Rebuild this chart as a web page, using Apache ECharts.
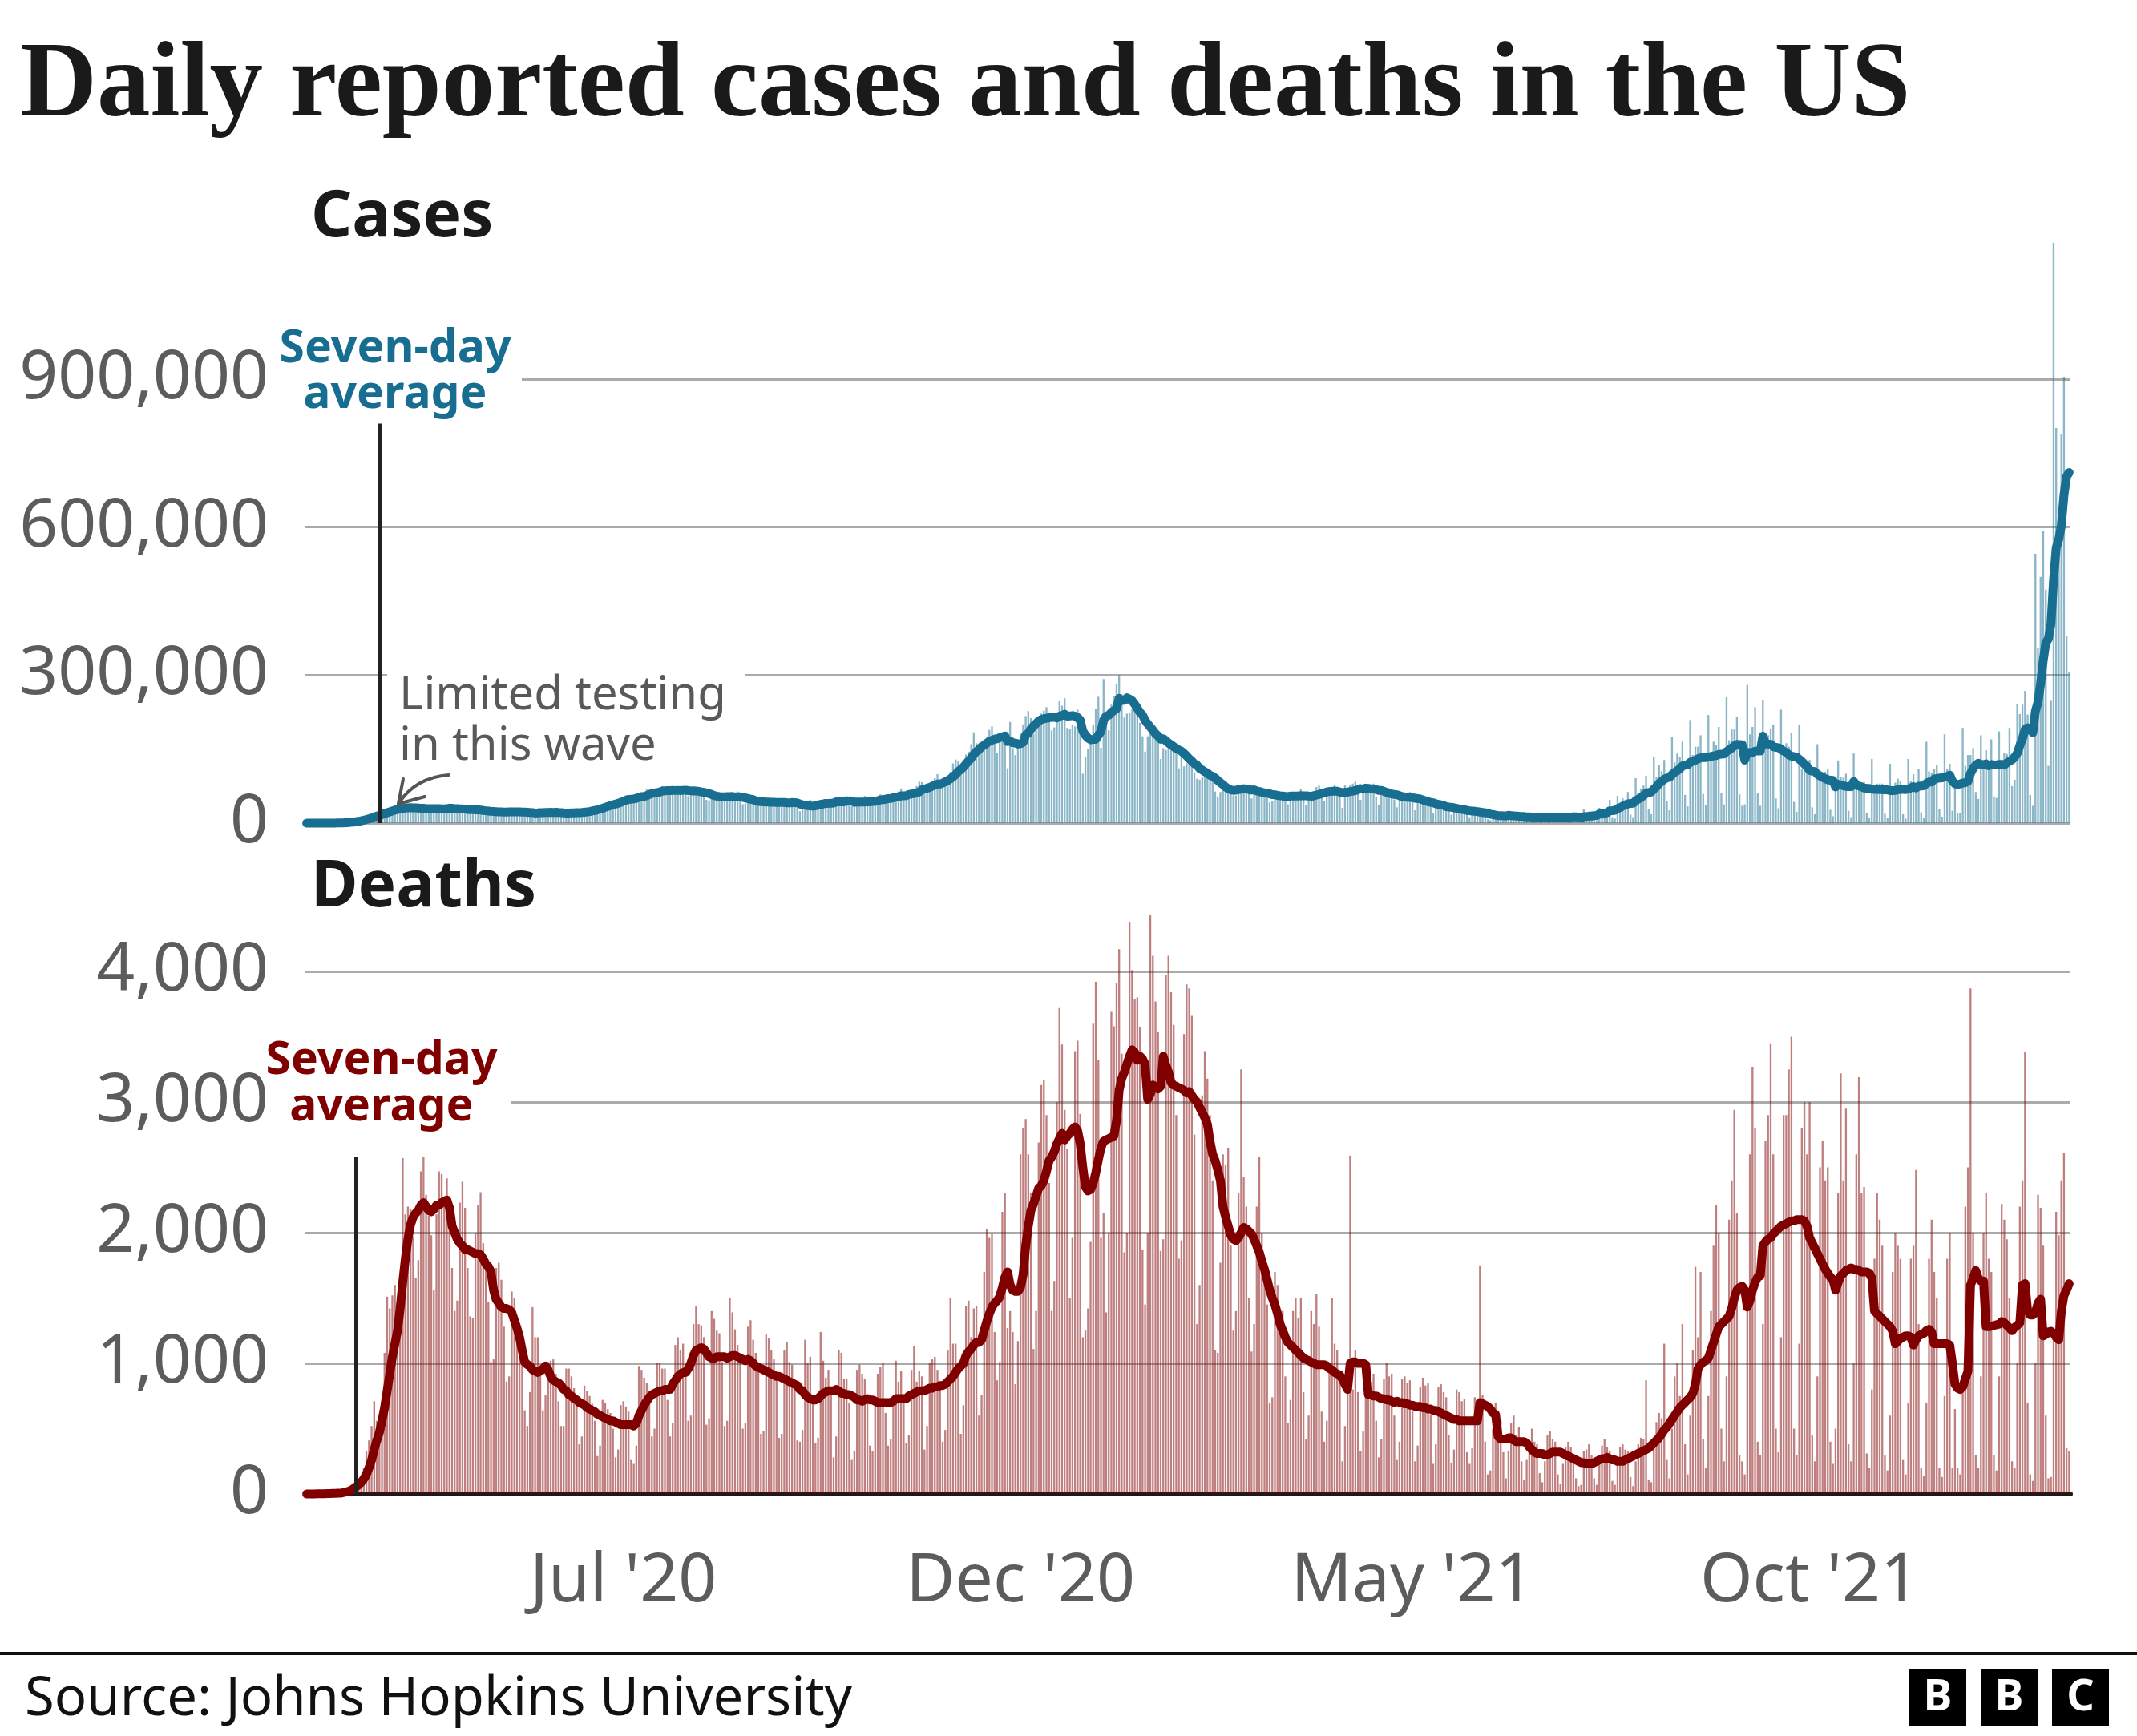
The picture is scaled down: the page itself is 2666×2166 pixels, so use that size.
<!DOCTYPE html>
<html>
<head>
<meta charset="utf-8">
<script src="https://cdn.jsdelivr.net/npm/echarts@6/dist/echarts.min.js"></script>
<style>
html,body{margin:0;padding:0;background:#fff;}
#chart{width:2666px;height:2166px;}
</style>
</head>
<body>
<div id="chart"></div>
<script>
// ---------- axis / category definitions ----------
const startDate = '2020-03-01';
const dayCount = 680;
const tickDates = ['2020-07-01', '2020-12-01', '2021-05-01', '2021-10-01'];
const tickNames = ["Jul '20", "Dec '20", "May '21", "Oct '21"];
const caseTicks = [0, 300000, 600000, 900000];
const deathTicks = [0, 1000, 2000, 3000, 4000];
const casesMarker = { date: '2020-03-29', top: 810000 };
const deathsMarker = { date: '2020-03-20', top: 2580 };

// ---------- daily reported cases (thousands), one row per week Sun..Sat ----------
const casesDailyK = [
0,0,0,0,0.1,0.1,0.1,
0.1,0.2,0.3,0.4,0.5,0.7,0.9,
1,1.5,2,3.5,4.5,6,7,
9,10,11,13,17,19,20,
19,21,25,26,29,32,33,
26,29,31,32,34,34,30,
27,26,27,31,31,33,30,
26,27,26,29,32,34,36,
27,22,25,27,30,33,29,
24,22,24,25,28,27,25,
20,18,22,21,27,25,24,
19,21,21,22,28,23,22,
20,18,19,19,22,24,25,
20,21,21,20,21,25,22,
18,17,19,21,22,25,25,
19,19,23,25,28,33,32,
27,31,34,38,40,45,43,
40,42,46,52,56,57,45,
45,50,60,62,59,68,63,
58,58,65,68,75,71,64,
60,61,63,71,71,75,65,
55,56,64,69,66,68,58,
47,46,52,54,58,61,55,
46,49,53,55,52,64,55,
38,40,44,46,46,48,45,
35,38,41,45,45,47,43,
34,38,41,39,44,51,42,
31,24,28,34,37,47,40,
34,35,39,39,45,48,42,
36,53,39,39,45,55,47,
34,36,43,39,45,55,48,
36,40,43,50,58,57,54,
46,42,52,59,64,70,55,
48,58,60,63,75,84,83,
61,67,74,79,91,99,82,
75,85,92,104,121,129,126,
104,118,139,145,160,184,162,
136,158,162,172,189,196,178,
142,173,175,182,111,205,152,
138,159,181,200,217,227,213,
181,193,216,222,228,235,220,
188,194,205,247,238,253,193,
190,199,196,230,197,100,134,
151,175,200,232,256,153,292,
210,188,240,257,283,300,261,
214,222,223,232,236,241,203,
176,145,176,186,191,191,171,
130,152,148,155,165,165,142,
111,135,115,121,123,134,103,
90,88,94,95,105,104,88,
64,54,63,69,70,80,72,
56,56,72,74,78,76,63,
50,58,57,67,66,67,59,
42,45,56,58,61,63,53,
38,55,55,59,61,69,51,
37,51,53,65,73,76,63,
45,66,61,66,78,73,52,
31,77,61,77,80,84,63,
47,68,77,74,75,80,54,
36,68,63,61,66,64,48,
32,55,49,58,60,63,42,
26,50,43,45,47,50,34,
20,35,35,38,38,34,28,
17,28,27,29,31,30,18,
12,24,23,25,25,24,13,
8,6,21,16,18,22,11,
6,18,13,15,16,17,9,
5,12,13,14,11,16,6,
4,14,11,12,13,16,6,
4,15,12,14,15,22,5,
3,4,28,16,21,23,9,
5,31,24,28,30,47,12,
9,55,38,50,46,63,17,
12,91,61,70,76,96,28,
18,134,93,117,105,128,45,
26,175,123,141,134,165,57,
34,209,138,155,155,178,59,
36,219,143,165,158,195,61,
38,255,168,190,190,215,58,
35,38,280,180,195,235,60,
35,250,170,178,192,200,50,
30,230,140,162,155,183,43,
23,200,110,123,121,128,32,
18,160,87,103,104,110,27,
14,67,127,93,92,100,25,
12,141,73,82,81,83,20,
11,130,72,80,80,80,19,
10,120,72,82,90,85,18,
9,130,86,99,70,110,22,
11,165,105,101,110,118,29,
13,180,110,120,25,80,20,
20,193,116,138,138,152,63,
49,178,112,148,112,170,54,
51,186,112,142,140,193,75,
88,242,221,240,268,220,57,
35,546,355,499,592,473,116,
248,1176,801,620,789,904,379,
306
];

// ---------- seven-day average of cases (thousands) ----------
const casesAvgK = [
0,0,0,0,0,0,0,
0.1,0.1,0.1,0.2,0.2,0.3,0.4,
0.6,0.8,1.0,1.4,2.0,2.8,3.6,
4.8,6.0,7.3,8.6,10.4,12.3,14.1,
15.6,17.1,19.1,21.0,22.7,24.6,26.4,
27.4,28.6,29.4,30.3,31.0,31.3,30.9,
31.0,30.6,30.0,29.9,29.4,29.3,29.3,
29.1,29.3,29.1,28.9,29.0,29.1,30.0,
30.1,29.4,29.3,29.0,28.7,28.6,27.6,
27.1,27.1,27.0,26.7,26.4,25.6,25.0,
24.4,23.9,23.6,23.0,22.9,22.6,22.4,
22.3,22.7,22.6,22.7,22.9,22.6,22.3,
22.4,22.0,21.7,21.3,20.4,20.6,21.0,
21.0,21.4,21.7,21.9,21.7,21.9,21.4,
21.1,20.6,20.3,20.4,20.6,20.6,21.0,
21.1,21.4,22.0,22.6,23.4,24.6,25.6,
26.7,28.4,30.0,31.9,33.6,35.3,36.9,
38.7,40.3,42.0,44.0,46.3,48.0,48.3,
49.0,50.1,52.1,53.6,54.0,55.6,58.1,
60.0,61.1,61.9,62.7,65.0,65.4,65.6,
65.9,66.3,66.0,66.4,65.9,66.4,66.6,
65.9,65.1,65.3,65.0,64.3,63.3,62.3,
61.1,59.7,58.0,55.9,54.7,53.7,53.3,
53.1,53.6,53.7,53.9,53.0,53.4,53.4,
52.3,51.0,49.7,48.4,47.6,45.3,43.9,
43.4,43.1,42.7,42.6,42.4,42.3,42.0,
41.9,41.9,41.9,41.0,40.9,41.4,41.3,
40.9,38.9,37.0,36.3,35.3,34.7,34.4,
34.9,36.4,38.0,38.7,39.9,40.0,40.3,
40.6,43.1,43.1,43.1,43.1,44.1,44.9,
44.6,42.1,42.7,42.7,42.7,42.7,42.9,
43.1,43.7,43.7,45.3,47.1,47.4,48.3,
49.7,50.0,51.3,52.6,53.4,55.3,55.4,
55.7,58.0,59.1,59.7,61.3,63.3,67.3,
69.1,70.4,72.4,74.7,77.0,79.1,79.0,
81.0,83.6,86.1,89.7,94.0,98.3,104.6,
108.7,113.4,120.1,126.0,131.6,139.4,144.6,
149.1,154.9,158.1,162.0,166.1,167.9,170.1,
171.0,173.1,175.0,176.4,165.3,166.6,162.9,
162.3,160.3,161.1,163.7,178.9,182.0,190.7,
196.9,201.7,206.7,209.9,211.4,212.6,213.6,
214.6,214.7,213.1,216.7,218.1,220.7,216.9,
217.1,217.9,216.6,214.1,208.3,186.4,178.0,
172.4,169.0,169.6,169.9,178.3,185.9,208.4,
216.9,218.7,224.4,228.0,231.9,252.9,248.4,
249.0,253.9,251.4,247.9,241.1,232.7,224.4,
219.0,208.0,201.3,194.7,188.3,181.1,176.6,
170.0,171.0,167.0,162.6,158.9,155.1,151.0,
148.3,145.9,141.1,136.3,130.3,125.9,120.3,
117.3,110.6,107.6,103.9,101.3,97.0,94.9,
91.1,86.3,81.9,78.1,73.1,69.7,67.4,
66.3,66.6,67.9,68.6,69.7,69.1,67.9,
67.0,67.3,65.1,64.1,62.4,61.1,60.6,
59.4,57.6,57.4,56.1,55.4,54.9,54.0,
53.4,54.9,54.7,54.9,54.9,55.7,55.4,
55.3,54.7,54.4,55.3,57.0,58.0,59.7,
60.9,63.0,64.1,64.3,65.0,64.6,63.0,
61.0,62.6,62.6,64.1,64.4,66.0,67.6,
69.9,68.6,70.9,70.4,69.7,69.1,67.9,
66.3,66.3,64.3,62.4,61.1,58.9,58.0,
57.4,55.6,53.6,53.1,52.3,52.1,51.3,
50.4,49.7,48.9,47.0,45.1,43.3,42.1,
41.3,39.1,38.0,37.0,35.7,33.4,32.6,
32.1,31.1,30.0,28.7,27.7,27.1,25.7,
25.0,24.4,23.9,23.3,22.4,21.6,20.9,
20.3,17.7,17.4,16.1,15.1,14.9,14.6,
14.3,16.0,14.9,14.7,14.4,13.7,13.4,
13.3,12.4,12.4,12.3,11.6,11.4,11.0,
10.9,11.1,10.9,10.6,10.9,10.9,10.9,
10.9,11.0,11.1,11.4,11.7,12.6,12.4,
12.3,10.7,13.0,13.3,14.1,14.3,14.9,
15.1,19.0,18.4,20.1,21.4,24.9,25.3,
25.9,29.3,31.3,34.4,36.7,39.0,39.7,
40.1,45.3,48.6,51.4,55.7,60.4,62.0,
62.9,69.0,73.6,80.3,84.4,89.0,91.4,
92.6,98.4,102.7,106.1,110.3,115.6,117.3,
118.4,123.3,125.4,127.4,130.4,132.3,132.6,
132.9,134.3,135.0,136.4,136.9,139.3,139.6,
139.9,145.0,148.6,152.1,156.7,159.6,159.1,
158.7,127.7,143.7,142.3,143.0,145.9,146.1,
146.1,176.4,160.7,160.4,160.0,155.0,153.6,
152.9,150.0,145.7,143.4,138.1,135.7,134.7,
133.7,129.4,125.1,119.6,114.7,106.9,105.3,
104.6,98.9,95.6,92.7,90.3,87.7,87.0,
86.4,73.1,78.9,77.4,75.7,74.3,74.0,
73.7,84.3,76.6,75.0,73.4,71.0,70.3,
70.1,68.6,68.4,68.1,68.0,67.6,67.4,
67.3,65.9,65.9,66.1,67.6,68.3,68.1,
68.0,69.4,71.4,73.9,71.0,74.6,75.1,
75.4,80.4,83.1,83.4,89.1,90.3,91.3,
91.6,93.7,94.4,97.1,85.0,79.6,78.3,
79.3,81.1,82.0,84.6,100.7,111.0,117.1,
121.3,119.1,118.6,120.0,116.3,118.9,117.6,
117.9,119.0,119.0,118.1,122.1,125.4,128.4,
133.7,141.7,157.3,171.3,189.6,193.4,190.9,
183.3,226.7,245.9,282.9,329.1,365.3,373.7,
404.1,494.1,557.9,575.1,603.3,664.9,702.4,
710.7
];

// ---------- daily reported deaths, one row per week Sun..Sat ----------
const deathsDaily = [
0,1,3,1,2,2,3,
3,4,4,8,6,7,10,
10,18,23,25,40,50,60,
130,200,330,410,520,710,560,
600,700,1080,1510,1420,1520,1600,
1330,1600,2570,2140,2200,2180,1970,
1650,1790,2470,2580,2290,2130,1980,
1560,2140,2470,2450,2220,2415,2160,
1730,1400,1480,2230,2390,2190,1730,
1360,1350,2000,2210,2310,1920,1790,
1470,1010,1030,1730,1770,1640,1280,
860,900,1550,1500,1290,1250,1100,
640,520,780,1430,1200,1200,960,
640,760,1010,1020,1030,920,710,
520,520,960,960,900,810,700,
380,440,830,790,750,690,560,
290,370,720,700,650,620,500,
280,340,680,710,670,630,260,
230,370,980,950,890,850,690,
440,500,1000,1000,960,960,720,
440,540,1140,1200,1100,1150,930,
560,600,1300,1440,1300,1290,1200,
530,580,1400,1340,1250,1230,1010,
520,560,1500,1390,1260,1140,1020,
500,540,1280,1330,1180,1080,940,
460,480,1220,1190,1100,1030,900,
430,460,1100,1160,1010,990,810,
410,400,490,1180,1000,1050,690,
390,430,1240,1020,890,950,760,
280,440,1100,1080,880,880,700,
260,330,950,990,920,880,700,
370,330,710,920,970,1000,620,
370,420,740,1020,860,940,720,
390,450,950,1130,860,940,900,
340,520,1000,1030,1050,950,860,
400,490,1100,1500,1150,1150,930,
460,680,1440,1480,1200,1420,1440,
600,760,1700,2030,1960,1990,1240,
870,1010,2160,2300,1270,1400,1240,
840,1170,2600,2800,2870,2600,2300,
1110,1400,2690,3130,3170,2900,2380,
1400,1630,3000,3720,3440,2940,2640,
1500,1960,3390,3470,2910,1200,1250,
1420,1930,3600,3920,3320,1960,2150,
1390,2000,3690,3580,3910,4170,3370,
1850,2000,4380,4010,3790,3800,3570,
1870,1450,2000,4430,4120,3770,3540,
1860,1950,3970,4120,3840,3590,2900,
1800,1940,3520,3900,3870,3660,2750,
1300,1600,3050,3390,3180,2900,2400,
1100,1080,1770,2600,2520,2650,1900,
1250,1400,2300,3250,2430,2200,1500,
1090,1300,2200,2580,2000,1700,1450,
700,740,1700,1600,1400,1400,900,
540,720,1400,1500,1350,1500,780,
420,600,1400,1300,1530,1280,630,
400,560,1000,1500,1150,1100,900,
250,520,900,2590,800,1100,780,
330,480,940,900,860,920,560,
280,420,880,1000,900,920,600,
260,400,880,900,850,870,630,
250,370,820,890,830,850,610,
230,380,820,840,780,740,450,
240,340,800,780,710,730,320,
230,350,740,700,1750,760,400,
150,180,500,700,480,560,320,
120,330,540,600,450,510,250,
110,260,400,500,400,380,160,
90,250,450,480,420,400,150,
80,230,360,400,360,280,120,
60,70,330,340,380,300,120,
70,300,370,420,360,330,100,
70,240,360,380,340,330,130,
60,250,380,430,420,870,110,
90,400,550,620,580,1150,260,
120,500,900,1000,750,1300,380,
150,600,1100,1740,1200,1700,420,
200,750,1400,1900,2210,2000,500,
250,900,2100,2400,2940,2150,300,
250,150,1500,2600,3270,2800,400,
300,1300,2700,2900,3450,2600,500,
320,1200,2900,2900,3250,3500,500,
300,1150,2800,3000,2600,3000,450,
250,900,2500,2700,2400,2500,400,
230,500,2300,3220,2400,2950,380,
250,1000,2600,3190,2300,2350,310,
200,800,1800,2300,2100,1900,300,
180,600,1700,2000,1900,1800,260,
150,700,1800,1900,2480,1300,200,
140,700,1800,2100,1700,1500,200,
130,750,1800,2000,200,650,200,
150,900,2200,2500,3870,2000,300,
200,900,2000,2300,1800,1700,300,
180,900,2220,2100,1950,1500,250,
200,1000,2200,2400,3380,700,150,
100,1000,2290,2190,1900,600,120,
130,1200,2160,1980,2400,2610,350,
330
];

// ---------- seven-day average of deaths ----------
const deathsAvg = [
0,0,0,0,1,1,2,
2,3,3,4,5,6,6,
10,14,20,28,40,55,70,
90,115,150,200,260,340,410,
470,560,660,790,920,1050,1150,
1250,1420,1620,1800,1950,2060,2120,
2150,2170,2210,2230,2200,2170,2160,
2180,2210,2210,2230,2240,2250,2190,
2050,2000,1950,1920,1900,1870,1870,
1860,1850,1840,1840,1830,1800,1760,
1740,1700,1560,1490,1460,1430,1420,
1420,1410,1390,1330,1270,1200,1100,
1010,990,980,950,940,930,940,
960,980,950,900,870,860,850,
830,800,790,760,750,730,720,
700,690,680,660,650,640,630,
610,600,590,580,570,560,560,
550,540,530,530,530,530,530,
520,540,600,640,680,710,740,
760,770,780,790,790,800,800,
800,840,870,900,920,930,930,
960,1000,1060,1100,1110,1120,1110,
1080,1050,1040,1040,1050,1050,1050,
1050,1040,1050,1060,1060,1050,1040,
1030,1020,1030,1020,1000,980,970,
960,950,940,930,920,910,900,
900,890,880,870,860,850,840,
830,800,790,760,740,730,720,
720,730,750,770,780,790,790,
790,800,790,770,770,760,760,
750,740,720,720,710,720,730,
720,720,710,700,700,700,700,
700,700,710,730,730,730,730,
730,750,760,770,780,790,790,
790,800,810,810,820,820,830,
830,840,860,880,900,930,960,
980,1000,1060,1090,1110,1140,1160,
1160,1180,1250,1320,1380,1430,1460,
1480,1510,1580,1660,1700,1600,1560,
1550,1550,1580,1680,1900,2050,2170,
2220,2280,2340,2360,2400,2470,2550,
2580,2620,2680,2720,2760,2710,2740,
2760,2790,2810,2780,2680,2500,2350,
2320,2330,2380,2460,2560,2650,2700,
2710,2720,2730,2740,2860,3090,3180,
3230,3290,3350,3400,3380,3320,3350,
3330,3290,3020,3060,3130,3120,3100,
3120,3350,3280,3230,3150,3130,3120,
3110,3100,3090,3070,3080,3050,3020,
3000,2960,2920,2880,2830,2700,2600,
2550,2480,2400,2200,2120,2050,1980,
1950,1940,1960,2000,2040,2030,2010,
1990,1950,1900,1850,1780,1720,1640,
1560,1500,1450,1380,1300,1250,1200,
1160,1140,1120,1100,1080,1060,1040,
1030,1020,1010,1000,990,990,990,
990,980,960,950,930,920,910,
880,840,800,1000,1010,1010,1000,
1000,1000,990,760,760,750,750,
740,730,730,720,720,710,700,
710,700,700,690,690,680,680,
670,670,670,660,660,650,650,
640,640,630,620,610,600,590,
580,570,570,560,560,560,560,
560,560,560,560,700,690,680,
670,650,620,610,440,420,420,
420,430,430,410,400,400,400,
400,390,360,340,320,310,310,
310,300,300,310,320,320,320,
320,310,300,290,280,270,260,
250,240,240,230,230,230,240,
250,260,270,270,280,270,260,
260,250,250,250,260,270,280,
290,300,310,320,330,340,350,
370,390,410,430,460,490,510,
540,570,600,630,660,680,700,
720,740,770,840,960,990,1010,
1020,1040,1100,1160,1220,1280,1300,
1320,1340,1360,1420,1500,1560,1580,
1590,1560,1430,1480,1560,1620,1660,
1670,1900,1930,1950,1960,1990,2010,
2030,2050,2060,2070,2080,2090,2090,
2100,2100,2100,2090,2050,1960,1920,
1880,1840,1800,1760,1720,1690,1660,
1640,1560,1620,1670,1690,1710,1720,
1730,1720,1720,1710,1700,1700,1700,
1690,1650,1400,1380,1360,1340,1320,
1300,1280,1245,1150,1170,1190,1200,
1210,1210,1200,1140,1180,1210,1220,
1230,1250,1260,1240,1150,1150,1150,
1150,1150,1150,1140,1000,840,810,
800,820,880,940,1600,1650,1710,
1650,1630,1630,1280,1280,1285,1290,
1295,1300,1320,1310,1290,1270,1250,
1275,1290,1310,1600,1610,1400,1370,
1370,1390,1460,1490,1210,1220,1240,
1245,1230,1200,1180,1400,1520,1560,
1610
];

// ---------- build category list (one per day) ----------
const dates = [];
{
  const t0 = Date.parse(startDate + 'T00:00:00Z');
  for (let i = 0; i < dayCount; i++) {
    dates.push(new Date(t0 + i * 86400000).toISOString().slice(0, 10));
  }
}

const casesDaily = casesDailyK.map(v => Math.round(v * 1000));
const casesAvg = casesAvgK.map(v => Math.round(v * 1000));

const fmtNum = v => String(v).replace(/\B(?=(\d{3})+(?!\d))/g, ',');

const SANS = '"Noto Sans", "Open Sans", sans-serif';
const LABEL_GREY = '#5c5c5c';
const GRID_GREY = '#ababab';
const BLUE = '#176e90';
const RED = '#800000';

const chart = echarts.init(document.getElementById('chart'), null, { renderer: 'canvas', width: 2666, height: 2166 });

const yAxisCommon = {
  axisLine: { show: false },
  axisTick: { show: false },
  axisLabel: { fontSize: 84, color: LABEL_GREY, fontFamily: SANS, margin: 46, formatter: fmtNum, padding: [9, 0, 0, 0] },
  splitLine: { show: true, lineStyle: { color: GRID_GREY, width: 3 } }
};

const option = {
  animation: false,
  backgroundColor: '#ffffff',
  grid: [
    { left: 381, right: 83, top: 473, height: 554, containLabel: false },
    { left: 381, right: 83, top: 1212, height: 652, containLabel: false }
  ],
  xAxis: [
    { type: 'category', gridIndex: 0, data: dates, boundaryGap: true,
      axisLine: { show: false }, axisTick: { show: false }, axisLabel: { show: false }, splitLine: { show: false } },
    { type: 'category', gridIndex: 1, data: dates, boundaryGap: true,
      axisLine: { show: true, lineStyle: { color: '#1a1a1a', width: 6 } },
      axisTick: { show: false },
      axisLabel: {
        interval: (i, v) => tickDates.indexOf(v) >= 0,
        formatter: v => tickNames[tickDates.indexOf(v)] || '',
        fontSize: 84, color: LABEL_GREY, fontFamily: SANS, margin: 68
      },
      splitLine: { show: false } }
  ],
  yAxis: [
    Object.assign({ type: 'value', gridIndex: 0, min: caseTicks[0], max: caseTicks[caseTicks.length - 1], interval: caseTicks[1] - caseTicks[0] }, yAxisCommon),
    Object.assign({ type: 'value', gridIndex: 1, min: deathTicks[0], max: deathTicks[deathTicks.length - 1], interval: deathTicks[1] - deathTicks[0] }, yAxisCommon)
  ],
  series: [
    { name: 'Cases', type: 'bar', xAxisIndex: 0, yAxisIndex: 0, data: casesDaily,
      barWidth: '72%', clip: false, silent: true,
      itemStyle: { color: 'rgba(23,110,144,0.5)' }, z: 2 },
    { name: 'Cases average', type: 'line', xAxisIndex: 0, yAxisIndex: 0, data: casesAvg,
      showSymbol: false, symbol: 'none', silent: true, clip: false,
      lineStyle: { color: BLUE, width: 11, cap: 'round', join: 'round' }, z: 4 },
    { name: 'Deaths', type: 'bar', xAxisIndex: 1, yAxisIndex: 1, data: deathsDaily,
      barWidth: '72%', clip: false, silent: true,
      itemStyle: { color: 'rgba(128,0,0,0.5)' }, z: 2 },
    { name: 'Deaths average', type: 'line', xAxisIndex: 1, yAxisIndex: 1, data: deathsAvg,
      showSymbol: false, symbol: 'none', silent: true, clip: false,
      lineStyle: { color: RED, width: 11, cap: 'round', join: 'round' }, z: 4 },
    // carriers for the vertical annotation lines
    { type: 'line', xAxisIndex: 0, yAxisIndex: 0, data: [], z: 8, silent: true,
      markLine: { silent: true, symbol: ['none', 'none'], label: { show: false }, animation: false,
        lineStyle: { color: '#222222', width: 5, type: 'solid' },
        data: [[{ coord: [casesMarker.date, 0] }, { coord: [casesMarker.date, casesMarker.top] }]] } },
    { type: 'line', xAxisIndex: 1, yAxisIndex: 1, data: [], z: 8, silent: true,
      markLine: { silent: true, symbol: ['none', 'none'], label: { show: false }, animation: false,
        lineStyle: { color: '#222222', width: 5, type: 'solid' },
        data: [[{ coord: [deathsMarker.date, 0] }, { coord: [deathsMarker.date, deathsMarker.top] }]] } }
  ],
  graphic: [
    // title & panel headings
    { type: 'text', z: 100, style: { x: 25, y: 110, text: 'Daily reported cases and deaths in the US',
      font: 'bold 133px "Liberation Serif", serif', fill: '#1a1a1a', textAlign: 'left', textVerticalAlign: 'middle' } },
    { type: 'text', z: 100, style: { x: 388, y: 272, text: 'Cases',
      font: 'bold 80px ' + SANS, fill: '#1a1a1a', textAlign: 'left', textVerticalAlign: 'middle' } },
    { type: 'text', z: 100, style: { x: 388, y: 1108, text: 'Deaths',
      font: 'bold 80px ' + SANS, fill: '#1a1a1a', textAlign: 'left', textVerticalAlign: 'middle' } },

    // cases "Seven-day average" label with white knock-out
    { type: 'rect', z: 90, shape: { x: 343, y: 402, width: 308, height: 122 }, style: { fill: '#ffffff' } },
    { type: 'text', z: 100, style: { x: 493, y: 436, text: 'Seven-day',
      font: 'bold 57px ' + SANS, fill: BLUE, textAlign: 'center', textVerticalAlign: 'middle' } },
    { type: 'text', z: 100, style: { x: 493, y: 493, text: 'average',
      font: 'bold 57px ' + SANS, fill: BLUE, textAlign: 'center', textVerticalAlign: 'middle' } },

    // deaths "Seven-day average" label
    { type: 'rect', z: 90, shape: { x: 340, y: 1287, width: 297, height: 130 }, style: { fill: '#ffffff' } },
    { type: 'text', z: 100, style: { x: 476, y: 1324, text: 'Seven-day',
      font: 'bold 57px ' + SANS, fill: RED, textAlign: 'center', textVerticalAlign: 'middle' } },
    { type: 'text', z: 100, style: { x: 476, y: 1382, text: 'average',
      font: 'bold 57px ' + SANS, fill: RED, textAlign: 'center', textVerticalAlign: 'middle' } },

    // "Limited testing" note
    { type: 'rect', z: 90, shape: { x: 483, y: 830, width: 446, height: 134 }, style: { fill: '#ffffff' } },
    { type: 'text', z: 100, style: { x: 498, y: 868, text: 'Limited testing',
      font: '58px ' + SANS, fill: '#595959', textAlign: 'left', textVerticalAlign: 'middle' } },
    { type: 'text', z: 100, style: { x: 498, y: 931, text: 'in this wave',
      font: '58px ' + SANS, fill: '#595959', textAlign: 'left', textVerticalAlign: 'middle' } },
    { type: 'bezierCurve', z: 100, shape: { x1: 560, y1: 967, cpx1: 518, cpy1: 970, x2: 497, y2: 1003 },
      style: { stroke: '#555555', lineWidth: 4, fill: null, lineCap: 'round' } },
    { type: 'polyline', z: 100, shape: { points: [[503, 972], [497, 1003], [530, 994]] },
      style: { stroke: '#555555', lineWidth: 4, fill: null, lineCap: 'round', lineJoin: 'round' } },

    // footer
    { type: 'line', z: 100, shape: { x1: 0, y1: 2063, x2: 2666, y2: 2063 }, style: { stroke: '#111111', lineWidth: 4 } },
    { type: 'text', z: 100, style: { x: 31, y: 2121, text: 'Source: Johns Hopkins University',
      font: '67px ' + SANS, fill: '#111111', textAlign: 'left', textVerticalAlign: 'middle' } },
    { type: 'rect', z: 100, shape: { x: 2382, y: 2083, width: 71, height: 70 }, style: { fill: '#000000' } },
    { type: 'rect', z: 100, shape: { x: 2471, y: 2083, width: 71, height: 70 }, style: { fill: '#000000' } },
    { type: 'rect', z: 100, shape: { x: 2560, y: 2083, width: 71, height: 70 }, style: { fill: '#000000' } },
    { type: 'text', z: 101, style: { x: 2417.5, y: 2119, text: 'B', font: 'bold 54px ' + SANS, fill: '#ffffff', textAlign: 'center', textVerticalAlign: 'middle' } },
    { type: 'text', z: 101, style: { x: 2506.5, y: 2119, text: 'B', font: 'bold 54px ' + SANS, fill: '#ffffff', textAlign: 'center', textVerticalAlign: 'middle' } },
    { type: 'text', z: 101, style: { x: 2595.5, y: 2119, text: 'C', font: 'bold 54px ' + SANS, fill: '#ffffff', textAlign: 'center', textVerticalAlign: 'middle' } }
  ]
};

chart.setOption(option);
</script>
</body>
</html>
